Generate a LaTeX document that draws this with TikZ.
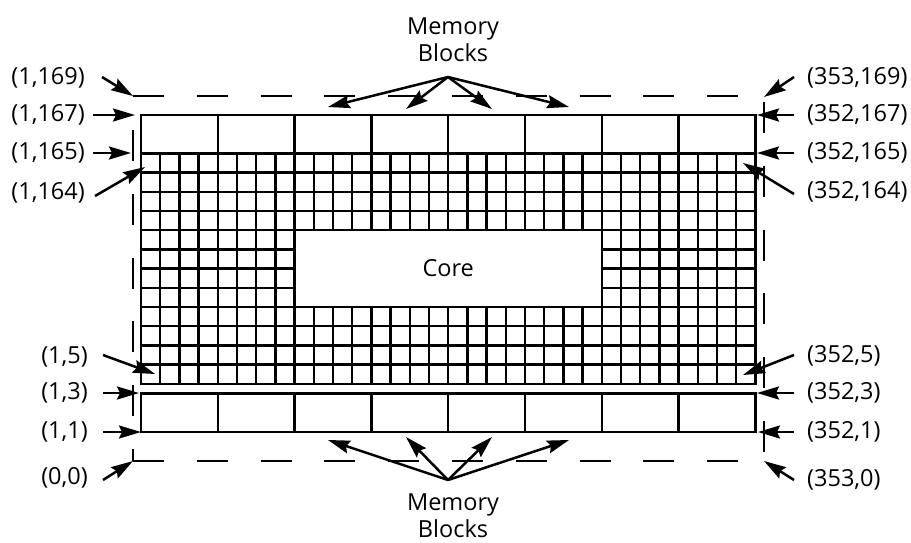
\documentclass[tikz,border=0pt]{standalone}
\usepackage{fontspec}
\setmainfont{Open Sans}
\usetikzlibrary{arrows.meta}

\tikzset{
  lbl/.style={font=\fontsize{23.5}{27}\selectfont, inner sep=0pt},
  arr/.style={line width=2.5pt, -{Stealth[length=22pt,width=13pt,inset=3pt]}},
  edge/.style={line width=2.4pt, line cap=rect},
  bound/.style={line width=2.4pt, dash pattern=on 31pt off 32.8pt},
}

\begin{document}
\begin{tikzpicture}[x=1pt,y=-1pt]
\useasboundingbox (0,0) rectangle (911,542);
% cell array
\foreach \i in {0,...,32}
  \draw[edge] (141+19.2*\i,153.3) -- (141+19.2*\i,383.7);
\foreach \j in {0,...,12}
  \draw[edge] (141,153.3+19.2*\j) -- (755.4,153.3+19.2*\j);
\node[lbl, draw, fill=white, line width=2.4pt, minimum width=307.2pt, minimum height=76.8pt] (core) at (448.2,268.5) {Core};
% memory blocks
\foreach \i in {0,...,7} {
  \draw[edge] (141+76.8*\i,115) rectangle ++(76.8,38.3);
  \draw[edge] (141+76.8*\i,393.3) rectangle ++(76.8,38.4);
}
% outer boundary
\draw[bound] (133,96) -- (764,96);
\draw[bound] (133,461) -- (764,461);
\draw[bound] (133,130) -- (133,461);
\draw[bound] (764,102) -- (764,461);

% corner points
\coordinate (c169) at (133,96);
\coordinate (c167) at (135,115);
\coordinate (c165) at (131,153);
\coordinate (c164) at (145,167);
\coordinate (c5) at (155,374);
\coordinate (c3) at (139,393);
\coordinate (c1) at (141,432);
\coordinate (c0) at (133,461);
\coordinate (d169) at (764,97);
\coordinate (d167) at (757,115);
\coordinate (d165) at (757,153);
\coordinate (d164) at (743,163);
\coordinate (d5) at (743,375);
\coordinate (d3) at (757,393);
\coordinate (d1) at (758,432);
\coordinate (d0) at (764,461);

% left labels
\node[lbl, anchor=east] (l169) at (85,78) {(1,169)};
\node[lbl, anchor=east] (l167) at (85,115) {(1,167)};
\node[lbl, anchor=east] (l165) at (85,153) {(1,165)};
\node[lbl, anchor=east] (l164) at (85,193) {(1,164)};
\node[lbl, anchor=east] (l5) at (88,357) {(1,5)};
\node[lbl, anchor=east] (l3) at (88,393) {(1,3)};
\node[lbl, anchor=east] (l1) at (88,432) {(1,1)};
\node[lbl, anchor=east] (l0) at (88,478) {(0,0)};
\draw[arr] ([shift={(17,-1)}]l169.east) -- (c169);
\draw[arr] ([shift={(8,0)}]l167.east) -- (c167);
\draw[arr] ([shift={(8,0)}]l165.east) -- (c165);
\draw[arr] ([shift={(10,3)}]l164.east) -- (c164);
\draw[arr] ([shift={(15,-2)}]l5.east) -- (c5);
\draw[arr] ([shift={(15,0)}]l3.east) -- (c3);
\draw[arr] ([shift={(15,0)}]l1.east) -- (c1);
\draw[arr] ([shift={(15,2)}]l0.east) -- (c0);

% right labels
\node[lbl, anchor=west] (r169) at (807,78) {(353,169)};
\node[lbl, anchor=west] (r167) at (807,115) {(352,167)};
\node[lbl, anchor=west] (r165) at (807,153) {(352,165)};
\node[lbl, anchor=west] (r164) at (807,192) {(352,164)};
\node[lbl, anchor=west] (r5) at (807,356) {(352,5)};
\node[lbl, anchor=west] (r3) at (807,393) {(352,3)};
\node[lbl, anchor=west] (r1) at (807,432) {(352,1)};
\node[lbl, anchor=west] (r0) at (807,480) {(353,0)};
\draw[arr] ([shift={(-13,-1)}]r169.west) -- (d169);
\draw[arr] ([shift={(-13,0)}]r167.west) -- (d167);
\draw[arr] ([shift={(-13,0)}]r165.west) -- (d165);
\draw[arr] ([shift={(-13,2)}]r164.west) -- (d164);
\draw[arr] ([shift={(-13,-1)}]r5.west) -- (d5);
\draw[arr] ([shift={(-13,0)}]r3.west) -- (d3);
\draw[arr] ([shift={(-13,0)}]r1.west) -- (d1);
\draw[arr] ([shift={(-13,0)}]r0.west) -- (d0);

% memory block labels
\node[lbl, align=center] (memtop) at (453,40) {Memory\\Blocks};
\node[lbl, align=center] (membot) at (453,516) {Memory\\Blocks};
\coordinate (mt) at (448,77);
\coordinate (mb) at (448,480);
\coordinate (mt1) at (328,107);
\coordinate (mt2) at (406,109);
\coordinate (mt3) at (492,109);
\coordinate (mt4) at (569,107);
\coordinate (mb1) at (328,440);
\coordinate (mb2) at (406,437);
\coordinate (mb3) at (492,437);
\coordinate (mb4) at (569,440);
\foreach \k in {1,...,4} {
  \draw[arr] (mt) -- (mt\k);
  \draw[arr] (mb) -- (mb\k);
}
\end{tikzpicture}
\end{document}
